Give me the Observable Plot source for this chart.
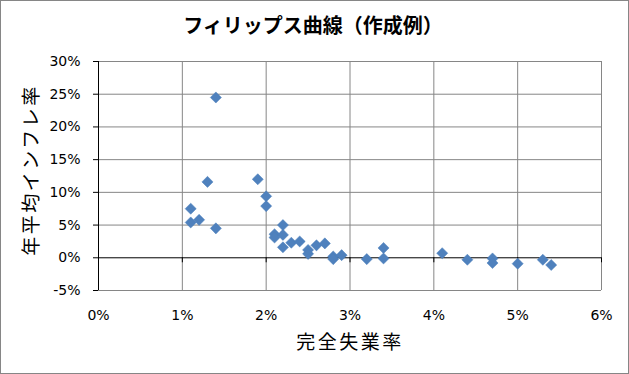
<!DOCTYPE html>
<html><head><meta charset="utf-8">
<script src="https://cdn.jsdelivr.net/npm/d3@7"></script>
<script src="https://cdn.jsdelivr.net/npm/@observablehq/plot@0.6"></script>
<style>
html,body{margin:0;padding:0;background:#fff;}
#wrap{position:relative;width:629px;height:374px;overflow:hidden;background:#fff;}
#wrap svg{position:absolute;left:0;top:0;}
#border{position:absolute;left:0;top:0;width:629px;height:374px;box-sizing:border-box;border:1px solid #868686;pointer-events:none;}
</style>
</head><body>
<div id="wrap"><div id="border"></div></div>
<script>
const title = "フィリップス曲線（作成例）";
const xLabel = "完全失業率";
const yLabel = "年平均インフレ率";
const xTicks = [0, 1, 2, 3, 4, 5, 6];
const yTicks = [-5, 0, 5, 10, 15, 20, 25, 30];
// 完全失業率 (%)
const unemployment = [1.1, 1.1, 1.2, 1.3, 1.4, 1.4, 1.9, 2.0, 2.0, 2.1, 2.1, 2.2, 2.2, 2.2, 2.3, 2.4, 2.5, 2.5, 2.6, 2.7, 2.8, 2.8, 2.9, 3.2, 3.4, 3.4, 4.1, 4.4, 4.7, 4.7, 5.0, 5.3, 5.4];
// 年平均インフレ率 (%)
const inflation =    [7.5, 5.4, 5.8, 11.6, 24.5, 4.5, 12.0, 9.4, 7.9, 3.6, 3.1, 5.0, 3.5, 1.6, 2.3, 2.5, 1.2, 0.6, 1.9, 2.2, 0.2, -0.2, 0.4, -0.2, 1.5, -0.1, 0.7, -0.3, -0.1, -0.8, -0.9, -0.3, -1.1];

const data = unemployment.map((u, i) => ({u, i: inflation[i]}));
const pct = d => d + "%";
const grid = "#868686";

const chart = Plot.plot({
  width: 629, height: 374,
  marginTop: 61, marginBottom: 84, marginLeft: 98, marginRight: 28,
  style: {fontFamily: "DejaVu Sans", fontSize: "14px", color: "#000", background: "transparent", overflow: "visible"},
  x: {domain: [0, 6], ticks: xTicks},
  y: {domain: [-5, 30], ticks: yTicks},
  marks: [
    Plot.ruleX(xTicks.filter(d => d !== 0), {stroke: grid}),
    Plot.ruleY(yTicks.filter(d => d !== 0), {stroke: grid}),
    Plot.ruleY([0], {stroke: "#000"}),
    Plot.ruleX([0], {stroke: "#000"}),
    Plot.ruleX(xTicks, {x: d => d, y1: () => 0, y2: () => 0, insetBottom: -5, stroke: "#000"}),
    Plot.axisY({ticks: yTicks, tickSize: 5, tickPadding: 13, tickFormat: pct, label: null, stroke: "#000", fill: "#000"}),
    Plot.axisX({ticks: xTicks, tickSize: 0, tickPadding: 20, tickFormat: pct, label: null, fill: "#000"}),
    Plot.dot(data, {x: "u", y: "i", symbol: "diamond2", r: 5, fill: "#4F81BD", stroke: "#4A7EBB", strokeWidth: 0.5}),
    Plot.text([title], {frameAnchor: "top", textAnchor: "middle", lineAnchor: "middle", dx: -37, dy: -35, fontFamily: "Noto Sans CJK JP", fontWeight: "bold", fontSize: 20, fill: "#000"}),
    Plot.text([xLabel], {frameAnchor: "bottom", textAnchor: "middle", lineAnchor: "middle", dy: 52, fontFamily: "Noto Sans CJK JP", fontSize: 19, fill: "#000"}),
    Plot.text([yLabel], {frameAnchor: "left", textAnchor: "middle", lineAnchor: "middle", rotate: -90, dx: -67, dy: -6, fontFamily: "Noto Sans CJK JP", fontSize: 19, fill: "#000"})
  ]
});
d3.select(chart).selectAll('g[aria-label="text"] text').each(function() {
  const t = this.textContent;
  if (t === xLabel || t === yLabel) this.setAttribute("letter-spacing", "2.5px");
});
const wrap = document.getElementById("wrap");
wrap.insertBefore(chart, document.getElementById("border"));
</script>
</body></html>
